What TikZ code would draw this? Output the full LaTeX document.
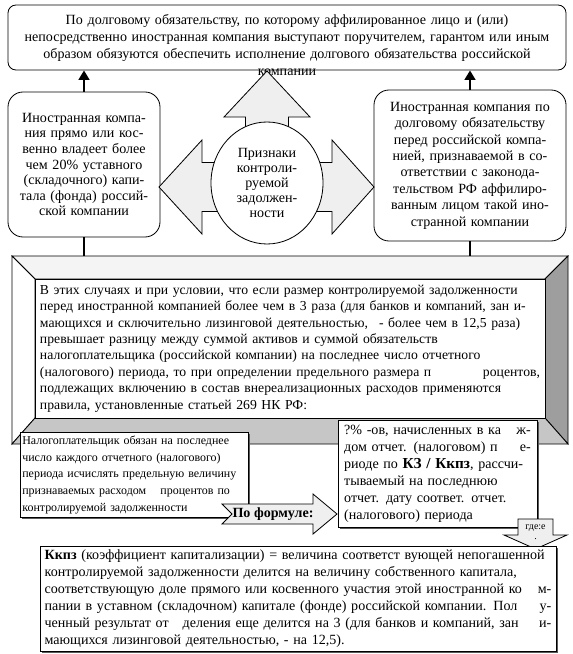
\documentclass[tikz,border=0pt]{standalone}
\usepackage{fontspec}
\setmainfont{Liberation Serif}
\usetikzlibrary{shapes.geometric,arrows.meta,shadows}
\definecolor{arrowgray}{HTML}{EFEFEF}
\definecolor{bevellight}{HTML}{F4F4F4}
\definecolor{bevelmid}{HTML}{C6C6C6}
\definecolor{beveldark}{HTML}{9E9E9E}

\tikzset{
  txt/.style={font=\fontsize{12}{14.5}\selectfont},
  roundbox/.style={draw, fill=white, align=center},
  shadowbox/.style={draw, fill=white, align=left,
    drop shadow={shadow xshift=1.3pt, shadow yshift=-1.3pt, fill=black!65, opacity=1}},
  blackarrow/.style={line width=2.5pt, -{Triangle[width=9pt,length=8pt]}},
  blackline/.style={line width=2.5pt},
  blockarrow/.style={draw, fill=arrowgray, line join=miter}
}

\begin{document}
\begin{tikzpicture}[x=0.03cm, y=-0.03cm, line width=0.7pt]
  \useasboundingbox (0,0) rectangle (573,654);

  % top box
  \node[draw, rounded corners=0.24cm, minimum width=16.74cm, minimum height=1.95cm]
    (topbox) at (287,37.5) {};
  \node[txt, inner sep=0pt, text width=16.6cm, align=center] (toptext) at (287,45)
    {По долговому обязательству, по которому аффилированное лицо и (или)\\
     непосредственно иностранная компания выступают поручителем, гарантом или иным\\
     образом обязуются обеспечить исполнение долгового обязательства российской\\
     компании};

  % three signs
  \node[roundbox, font=\fontsize{12}{13.3}\selectfont, rounded corners=0.45cm,
    minimum width=4.56cm, minimum height=4.35cm, text width=4.2cm] (leftbox) at (84,164.5)
    {Иностранная компа-\\ния прямо или кос-\\венно владеет более\\чем 20\% уставного\\
     (складочного) капи-\\тала (фонда) россий-\\ской компании\\[-4pt]};
  \node[roundbox, font=\fontsize{12}{14}\selectfont, rounded corners=0.45cm,
    minimum width=5.76cm, minimum height=4.53cm, text width=5.5cm] (rightbox) at (470,165.5)
    {Иностранная компания по\\долговому обязательству\\перед российской компа-\\
     нией, признаваемой в со-\\ответствии с законода-\\тельством РФ аффилиро-\\
     ванным лицом такой ино-\\странной компании};

  \filldraw[blockarrow] (245.5,190) -- (245.5,117) -- (224,117) -- (267,71) -- (310,117)
    -- (288.5,117) -- (288.5,190) -- cycle;
  \filldraw[blockarrow] (267,162.5) -- (202,162.5) -- (202,140) -- (159,187) -- (202,234)
    -- (202,211.5) -- (267,211.5) -- cycle;
  \filldraw[blockarrow] (267,162.5) -- (332,162.5) -- (332,140) -- (374,187) -- (332,234)
    -- (332,211.5) -- (267,211.5) -- cycle;
  \node[draw, ellipse, fill=white, minimum width=3.36cm, minimum height=3.66cm,
    inner sep=0pt, font=\fontsize{12}{12.8}\selectfont, align=center] (sign) at (267,183)
    {Признаки\\контроли-\\руемой\\задолжен-\\ности};

  \draw[blackarrow] (leftbox.north) -- (leftbox.north |- topbox.south);
  \draw[blackarrow] (rightbox.north) -- (rightbox.north |- topbox.south);

  % bevelled frame
  \coordinate (frametop) at (287,256);
  \filldraw[fill=bevellight] (12,256) -- (568,256) -- (545,279) -- (35,279) -- cycle;
  \filldraw[fill=white] (12,256) -- (35,279) -- (35,418) -- (12,444) -- cycle;
  \filldraw[fill=beveldark] (568,256) -- (568,444) -- (545,418) -- (545,279) -- cycle;
  \filldraw[fill=bevelmid] (12,444) -- (568,444) -- (545,418) -- (35,418) -- cycle;
  \node[draw, fill=white, minimum width=15.3cm, minimum height=4.17cm,
    font=\fontsize{11.7}{14}\selectfont, text width=15cm, align=left] (cases) at (290,348.5)
    {В этих случаях и при условии, что если размер контролируемой задолженности\\
     перед иностранной компанией более чем в 3 раза (для банков и компаний, зан и-\\
     мающихся и сключительно лизинговой деятельностью,\hspace{0.8em}- более чем в 12,5 раза)\\
     превышает разницу между суммой активов и суммой обязательств\\
     налогоплательщика (российской компании) на последнее число отчетного\\
     (налогового) периода, то при определении предельного размера п\hfill роцентов,\\
     подлежащих включению в состав внереализационных расходов применяются\\
     правила, установленные статьей 269 НК РФ:};

  \draw[blackline] (leftbox.south) -- (leftbox.south |- frametop);
  \draw[blackline] (rightbox.south) -- (rightbox.south |- frametop);

  % calculation
  \node[shadowbox, font=\fontsize{10.2}{14.2}\selectfont, text width=6.7cm,
    inner xsep=2pt, minimum width=6.72cm, minimum height=2.52cm] (payer) at (134,475)
    {Налогоплательщик обязан на последнее\\
     число каждого отчетного (налогового)\\
     периода исчислять предельную величину\\
     признаваемых расходом\hspace{1.2em}процентов по\\
     контролируемой задолженности};
  \node[shadowbox, txt, text width=5.6cm, minimum width=5.97cm, minimum height=3.21cm]
    (percent) at (437.5,473.5)
    {?\% -ов, начисленных в ка\hfill ж-\\
     дом отчет. (налоговом) п\hfill е-\\
     риоде по {\fontsize{13}{14.5}\selectfont\bfseries КЗ / Ккпз}, рассчи-\\
     тываемый на последнюю\\
     отчет. дату соответ. отчет.\\
     (налогового) периода};

  \filldraw[blockarrow] (222,504) -- (313,504) -- (313,494) -- (337,514) -- (313,534)
    -- (313,524) -- (222,524) -- (232,514) -- cycle;
  \node[font=\fontsize{12}{14}\selectfont\bfseries] (formula) at (273,514) {По формуле:};

  \filldraw[blockarrow] (518,519) -- (553,519) -- (553,535) -- (567,535) -- (535.5,549)
    -- (504,535) -- (518,535) -- cycle;
  \node[font=\fontsize{8.5}{9}\selectfont, inner sep=0pt, align=center] (where) at (535.5,532)
    {где:е\\.};

  \node[shadowbox, txt, text width=15.2cm, minimum width=15.48cm, minimum height=3.06cm]
    (ratio) at (298,599)
    {\textbf{Ккпз} (коэффициент капитализации) = величина соответст вующей непогашенной\\
     контролируемой задолженности делится на величину собственного капитала,\\
     соответствующую доле прямого или косвенного участия этой иностранной ко\hfill м-\\
     пании в уставном (складочном) капитале (фонде) российской компании. Пол\hfill у-\\
     ченный результат от\hspace{1em}деления еще делится на 3 (для банков и компаний, зан\hfill и-\\
     мающихся лизинговой деятельностью, - на 12,5).};
\end{tikzpicture}
\end{document}
